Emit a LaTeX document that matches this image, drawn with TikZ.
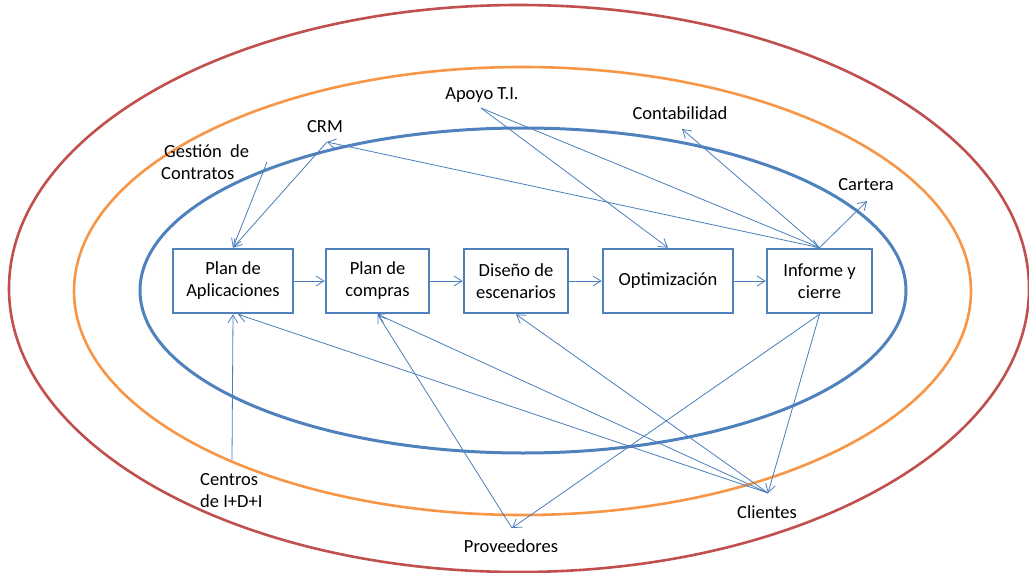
\documentclass[tikz,border=0pt]{standalone}
\usepackage{fontspec}
\setmainfont{Carlito}
\usetikzlibrary{arrows.meta,calc}
\definecolor{ringred}{HTML}{C0504D}
\definecolor{ringorange}{HTML}{F79646}
\definecolor{ringblue}{HTML}{4F81BD}
\definecolor{linkblue}{HTML}{4A7EBB}

\begin{document}
\begin{tikzpicture}[x=1pt,y=-1pt,
  txt/.style={font=\fontsize{18.5}{22}\selectfont},
  stage/.style={txt, draw=ringblue, line width=2.6pt, fill=white, align=center,
    minimum height=64pt, inner sep=0pt},
  lbl/.style={txt, inner sep=0pt, align=center},
  ring/.style={line width=2.6pt},
  link/.style={draw=linkblue, line width=0.8pt,
    -{Straight Barb[length=8pt,width=10pt]}},
]
\useasboundingbox (0,0) rectangle (1029,573);

% concentric rings
\draw[ring, ringred] (519,288.5) ellipse [x radius=510pt, y radius=283.5pt];
\draw[ring, ringorange] (522.5,291) ellipse [x radius=448.5pt, y radius=224pt];
\draw[ring, ringblue, line width=3pt] (523,290.5) ellipse [x radius=383pt, y radius=162.5pt];

% process stages
\node[stage, minimum width=120pt] (app) at (233,281) {Plan de\\Aplicaciones};
\node[stage, minimum width=103pt] (comp) at (377.5,281) {Plan de\\compras};
\node[stage, minimum width=104pt] (dis) at (516,281) {Diseño de\\escenarios};
\node[stage, minimum width=130pt] (opt) at (668,281) {Optimización};
\node[stage, minimum width=105pt] (info) at (819.5,281) {Informe y\\cierre};

% surrounding actors
\node[lbl] (apoyo) at (482,95) {Apoyo T.I.};
\node[lbl] (crm) at (325,127) {CRM};
\node[lbl, align=left, anchor=west] (gest) at (161,162) {\hspace{3pt}Gestión\ \ de\\Contratos};
\node[lbl] (conta) at (680,113) {Contabilidad};
\node[lbl] (cart) at (866,185) {Cartera};
\node[lbl, align=left, anchor=west] (cent) at (200,491) {Centros\\de I+D+I};
\node[lbl] (prov) at (511,546) {Proveedores};
\node[lbl] (cli) at (767,512) {Clientes};

% attachment points of the actors
\coordinate (gestP) at (267,162);
\coordinate (crmP) at (327,142);
\coordinate (apoyoP) at (481,108);
\coordinate (contaP) at (682,129);
\coordinate (cartP) at (867,201);
\coordinate (centP) at (232,460);
\coordinate (provP) at (512,528);
\coordinate (cliP) at (768,493);

% main flow
\draw[link] (app.east) -- (comp.west);
\draw[link] (comp.east) -- (dis.west);
\draw[link] (dis.east) -- (opt.west);
\draw[link] (opt.east) -- (info.west);

% inputs and outputs
\draw[link] (gestP) -- (app.north);
\draw[link] (crmP) -- (app.north);
\draw[link] (info.north) -- (crmP);
\draw[link] (apoyoP) -- (opt.north);
\draw[link] (apoyoP) -- (info.north);
\draw[link] (info.north) -- (contaP);
\draw[link] (info.north) -- (cartP);
\draw[link] (centP) -- (app.south);
\draw[link] (cliP) -- ([xshift=5pt]app.south);
\draw[link] (cliP) -- (comp.south);
\draw[link] (provP) -- (comp.south);
\draw[link] (cliP) -- (dis.south);
\draw[link] (info.south) -- (cliP);
\draw[link] (info.south) -- (provP);
\end{tikzpicture}
\end{document}
